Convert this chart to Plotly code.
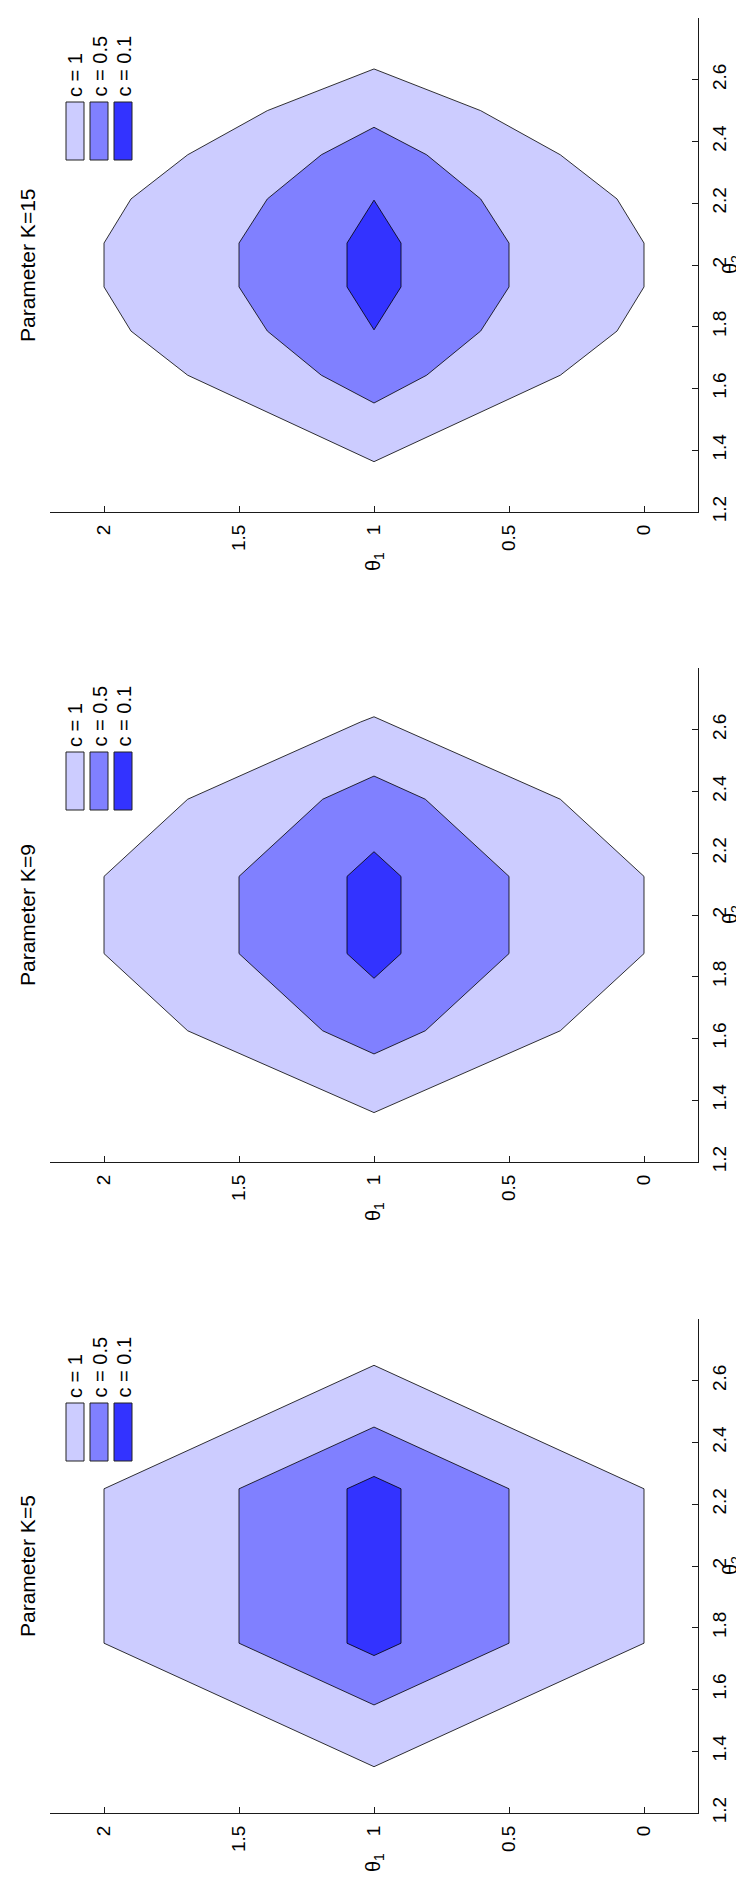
import plotly.graph_objects as go

# ---------------- data ----------------
theta1_ticks = [0, 0.5, 1, 1.5, 2]
theta1_ticktext = ["0", "0.5", "1", "1.5", "2"]
theta2_ticks = [1.2, 1.4, 1.6, 1.8, 2.0, 2.2, 2.4, 2.6]
theta2_ticktext = ["1.2", "1.4", "1.6", "1.8", "2", "2.2", "2.4", "2.6"]

levels = ["c = 1", "c = 0.5", "c = 0.1"]
fill_colors = ["#CCCCFF", "#8080FF", "#3333FF"]
panel_titles = ["Parameter K=15", "Parameter K=9", "Parameter K=5"]

# K = 15 (top panel)
k15_c1_t1 = [1.0, 1.395, 1.69, 1.9, 2.0, 2.0, 1.9, 1.69, 1.0, 0.31, 0.1, 0.0, 0.0, 0.1, 0.31, 0.605]
k15_c1_t2 = [2.635, 2.5, 2.357, 2.214, 2.071, 1.929, 1.786, 1.643, 1.363, 1.643, 1.786, 1.929, 2.071, 2.214, 2.357, 2.5]
k15_c05_t1 = [1.0, 1.195, 1.395, 1.5, 1.5, 1.395, 1.195, 1.0, 0.805, 0.605, 0.5, 0.5, 0.605, 0.805]
k15_c05_t2 = [2.446, 2.357, 2.214, 2.071, 1.929, 1.786, 1.643, 1.553, 1.643, 1.786, 1.929, 2.071, 2.214, 2.357]
k15_c01_t1 = [1.0, 1.1, 1.1, 1.0, 0.9, 0.9]
k15_c01_t2 = [2.21, 2.071, 1.929, 1.79, 1.929, 2.071]

# K = 9 (middle panel)
k9_c1_t1 = [1.0, 1.05, 1.69, 2.0, 2.0, 1.69, 1.0, 0.31, 0.0, 0.0, 0.31, 0.95]
k9_c1_t2 = [2.642, 2.625, 2.375, 2.125, 1.875, 1.625, 1.36, 1.625, 1.875, 2.125, 2.375, 2.625]
k9_c05_t1 = [1.0, 1.19, 1.5, 1.5, 1.19, 1.0, 0.81, 0.5, 0.5, 0.81]
k9_c05_t2 = [2.45, 2.375, 2.125, 1.875, 1.625, 1.55, 1.625, 1.875, 2.125, 2.375]
k9_c01_t1 = [1.0, 1.1, 1.1, 1.0, 0.9, 0.9]
k9_c01_t2 = [2.205, 2.125, 1.875, 1.795, 1.875, 2.125]

# K = 5 (bottom panel)
k5_c1_t1 = [1.0, 2.0, 2.0, 1.0, 0.0, 0.0]
k5_c1_t2 = [2.65, 2.25, 1.75, 1.35, 1.75, 2.25]
k5_c05_t1 = [1.0, 1.5, 1.5, 1.0, 0.5, 0.5]
k5_c05_t2 = [2.45, 2.25, 1.75, 1.55, 1.75, 2.25]
k5_c01_t1 = [1.0, 1.1, 1.1, 1.0, 0.9, 0.9]
k5_c01_t2 = [2.29, 2.25, 1.75, 1.71, 1.75, 2.25]

panels = [
    [(k15_c1_t1, k15_c1_t2), (k15_c05_t1, k15_c05_t2), (k15_c01_t1, k15_c01_t2)],
    [(k9_c1_t1, k9_c1_t2), (k9_c05_t1, k9_c05_t2), (k9_c01_t1, k9_c01_t2)],
    [(k5_c1_t1, k5_c1_t2), (k5_c05_t1, k5_c05_t2), (k5_c01_t1, k5_c01_t2)],
]

# ---------------- layout geometry ----------------
W, H = 744, 1880
X0, X1 = 42, 690            # horizontal extent of each panel (px)
PANEL_TOPS = [10, 660, 1311]
PANEL_H = 494
PW = X1 - X0

FONT = "Liberation Sans, Arial, Helvetica, sans-serif"
AXIS_COLOR = "#1a1a1a"

fig = go.Figure()
annotations = []
shapes = []
layout = {}

def fx(px):  # px offset from panel left -> x domain fraction
    return px / PW

def fy(px):  # px offset from panel top -> y domain fraction
    return 1 - px / PANEL_H

for i, (polys, top) in enumerate(zip(panels, PANEL_TOPS)):
    n = "" if i == 0 else str(i + 1)
    xa, ya = "x" + n, "y" + n
    for (t1, t2), col in zip(polys, fill_colors):
        fig.add_trace(go.Scatter(
            x=list(t1) + [t1[0]], y=list(t2) + [t2[0]],
            mode="lines", fill="toself", fillcolor=col,
            line=dict(color="black", width=0.8),
            xaxis=xa, yaxis=ya, hoverinfo="skip", showlegend=False))

    ydom = [(H - (top + PANEL_H)) / H, (H - top) / H]
    layout["xaxis" + n] = dict(
        domain=[X0 / W, X1 / W], anchor=ya, range=[2.2, -0.2],
        tickmode="array", tickvals=theta1_ticks, ticktext=theta1_ticktext,
        ticks="inside", ticklen=6, tickcolor=AXIS_COLOR, tickwidth=1,
        tickangle=-90, ticklabelstandoff=4,
        showline=True, linecolor=AXIS_COLOR, linewidth=1,
        showgrid=False, zeroline=False, mirror=False,
        tickfont=dict(family=FONT, size=19, color="black"),
        automargin=False, fixedrange=True)
    layout["yaxis" + n] = dict(
        domain=ydom, anchor=xa, side="right", range=[1.2, 2.8],
        tickmode="array", tickvals=theta2_ticks, ticktext=theta2_ticktext,
        ticks="inside", ticklen=6, tickcolor=AXIS_COLOR, tickwidth=1,
        tickangle=-90, ticklabelstandoff=4,
        showline=True, linecolor=AXIS_COLOR, linewidth=1,
        showgrid=False, zeroline=False, mirror=False,
        tickfont=dict(family=FONT, size=19, color="black"),
        automargin=False, fixedrange=True)

    xd, yd = xa + " domain", ya + " domain"
    # panel title
    annotations.append(dict(
        text=panel_titles[i], textangle=-90, showarrow=False,
        xref="paper", x=19 / W, xanchor="center",
        yref=yd, y=0.5, yanchor="middle",
        font=dict(family=FONT, size=21, color="black")))
    # axis titles
    annotations.append(dict(
        text="θ<sub>1</sub>", textangle=-90, showarrow=False,
        xref=xd, x=0.5, xanchor="center",
        yref=yd, y=0, yanchor="middle", yshift=-50,
        font=dict(family=FONT, size=20, color="black")))
    annotations.append(dict(
        text="θ<sub>2</sub>", textangle=-90, showarrow=False,
        xref=xd, x=1, xanchor="center", xshift=33,
        yref=yd, y=0.5, yanchor="middle",
        font=dict(family=FONT, size=20, color="black")))
    # legend (rotated)
    for j, (lab, col) in enumerate(zip(levels, fill_colors)):
        left = 16 + 24 * j
        shapes.append(dict(
            type="rect", xref=xd, yref=yd,
            x0=fx(left), x1=fx(left + 18), y0=fy(142), y1=fy(84),
            fillcolor=col, line=dict(color="#222222", width=1)))
        annotations.append(dict(
            text=lab, textangle=-90, showarrow=False,
            xref=xd, x=fx(left + 9), xanchor="center",
            yref=yd, y=fy(81), yanchor="bottom",
            font=dict(family=FONT, size=20, color="black")))

fig.update_layout(
    width=W, height=H, margin=dict(l=0, r=0, t=0, b=0),
    paper_bgcolor="white", plot_bgcolor="white",
    showlegend=False, annotations=annotations, shapes=shapes,
    **layout)

fig.write_html("out.html")
